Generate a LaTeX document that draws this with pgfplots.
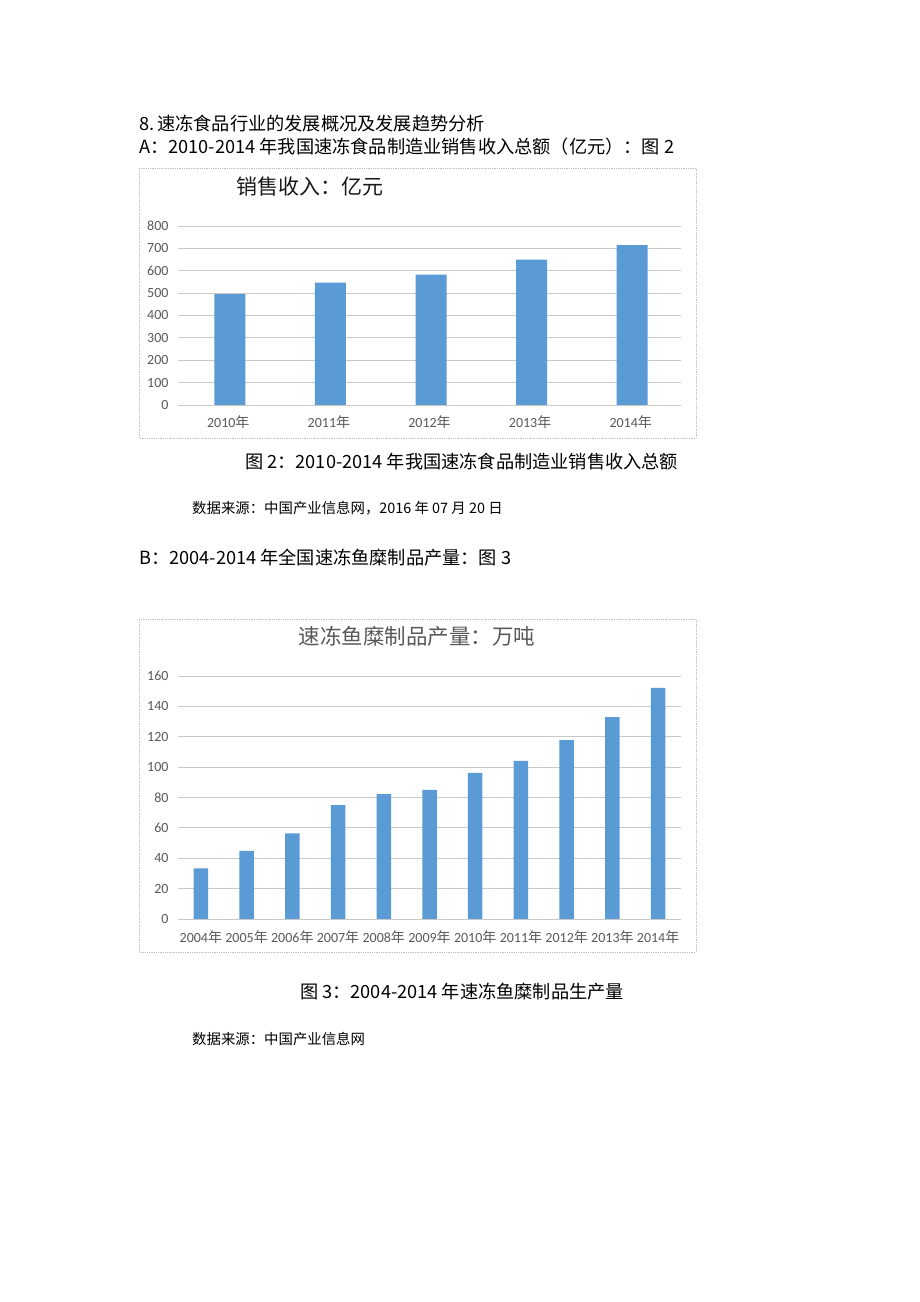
\documentclass[border=0pt]{standalone}
\usepackage{fontspec}
\setmainfont{Carlito}
\newfontfamily\cjk{Noto Sans CJK SC}
\usepackage{pgfplots}
\pgfplotsset{compat=1.18}
\definecolor{barblue}{HTML}{5B9BD5}
\definecolor{gridgray}{HTML}{C9C9C9}
\definecolor{tickgray}{HTML}{595959}
\definecolor{framegray}{HTML}{BFBFBF}
\newcommand{\bodyfont}{\cjk\fontsize{18.2}{18.2}\selectfont}
\newcommand{\srcfont}{\cjk\fontsize{14.4}{14.4}\selectfont}
\begin{document}
\begin{tikzpicture}[x=1pt,y=1pt]
\path[fill=white] (0,0) rectangle (920,1302);
% page text
\node[anchor=west,inner sep=0] at (139,1178) {\bodyfont 8.\,速冻食品行业的发展概况及发展趋势分析};
\node[anchor=west,inner sep=0] at (139,1155) {\bodyfont A：2010-2014 年我国速冻食品制造业销售收入总额（亿元）：图 2};
\node[anchor=west,inner sep=0] at (245,840) {\bodyfont 图 2：2010-2014 年我国速冻食品制造业销售收入总额};
\node[anchor=west,inner sep=0] at (192,794) {\srcfont 数据来源：中国产业信息网，2016 年 07 月 20 日};
\node[anchor=west,inner sep=0] at (139,744) {\bodyfont B：2004-2014 年全国速冻鱼糜制品产量：图 3};
\node[anchor=west,inner sep=0] at (300,310) {\bodyfont 图 3：2004-2014 年速冻鱼糜制品生产量};
\node[anchor=west,inner sep=0] at (192,263) {\srcfont 数据来源：中国产业信息网};
% frames
\draw[framegray,densely dotted,line width=0.8pt] (139,864) rectangle (696,1134);
\draw[framegray,densely dotted,line width=0.8pt] (139,350) rectangle (696,683);
% titles
\node[inner sep=0,text=black!90] at (310,1115) {\cjk\fontsize{21}{21}\selectfont 销售收入：亿元};
\node[inner sep=0,text=tickgray] at (417,666) {\cjk\fontsize{21.5}{21.5}\selectfont 速冻鱼糜制品产量：万吨};
% chart A
\begin{axis}[
  at={(178pt,897pt)}, anchor=south west,
  scale only axis, width=503pt, height=179pt,
  xmin=-0.5, xmax=4.5, ymin=0, ymax=800,
  ytick={0,100,...,800},
  xtick=data,
  xticklabels={2010{\cjk 年},2011{\cjk 年},2012{\cjk 年},2013{\cjk 年},2014{\cjk 年}},
  /pgf/number format/assume math mode=true,
  axis line style={draw=none},
  major tick length=0pt,
  ymajorgrids, major grid style={gridgray,line width=0.8pt},
  ticklabel style={font=\fontsize{14}{14}\selectfont, text=tickgray},
  xticklabel style={yshift=-7pt},
  yticklabel style={xshift=-6pt},
  clip=false,
]
\addplot[ybar, bar width=31pt, bar shift=1.5pt, fill=barblue, draw=none] coordinates {
(0,495) (1,547) (2,583) (3,650) (4,714)};
\end{axis}
% chart B
\begin{axis}[
  at={(178pt,383pt)}, anchor=south west,
  scale only axis, width=503pt, height=243pt,
  xmin=-0.5, xmax=10.5, ymin=0, ymax=160,
  ytick={0,20,...,160},
  xtick=data,
  xticklabels={2004{\cjk 年},2005{\cjk 年},2006{\cjk 年},2007{\cjk 年},2008{\cjk 年},2009{\cjk 年},2010{\cjk 年},2011{\cjk 年},2012{\cjk 年},2013{\cjk 年},2014{\cjk 年}},
  /pgf/number format/assume math mode=true,
  axis line style={draw=none},
  major tick length=0pt,
  ymajorgrids, major grid style={gridgray,line width=0.8pt},
  ticklabel style={font=\fontsize{14}{14}\selectfont, text=tickgray},
  xticklabel style={yshift=-8pt},
  yticklabel style={xshift=-6pt},
  clip=false,
]
\addplot[ybar, bar width=14.5pt, fill=barblue, draw=none] coordinates {
(0,33.4) (1,44.8) (2,56.4) (3,74.9) (4,82.3) (5,85.0) (6,96.2) (7,104.1) (8,117.7) (9,133.0) (10,152.1)};
\end{axis}
\end{tikzpicture}
\end{document}
